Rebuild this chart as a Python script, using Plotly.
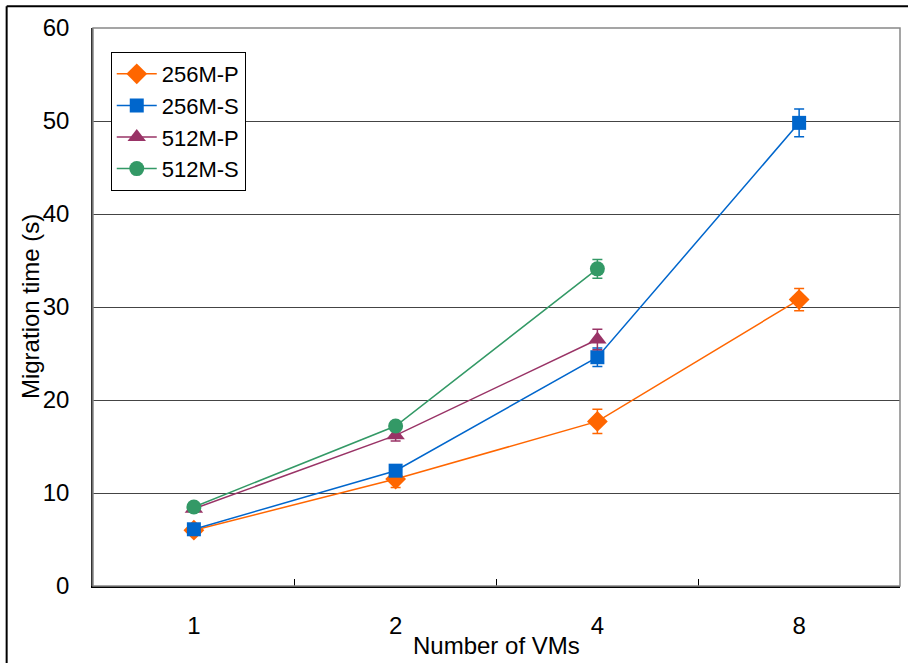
import plotly.graph_objects as go

categories = ["1", "2", "4", "8"]
y_256p = [6.0, 11.5, 17.7, 30.8]
e_256p = [0.3, 0.9, 1.3, 1.2]
y_256s = [6.1, 12.4, 24.6, 49.8]
e_256s = [0.3, 0.5, 1.0, 1.5]
y_512p = [8.3, 16.2, 26.5, None]
e_512p = [0.3, 0.6, 1.1, None]
y_512s = [8.5, 17.2, 34.1, None]
e_512s = [0.3, 0.4, 1.0, None]

series = [
    ("256M-P", y_256p, e_256p, "#FF6600", "diamond", 16),
    ("256M-S", y_256s, e_256s, "#0066CC", "square", 14),
    ("512M-P", y_512p, e_512p, "#993366", "triangle-up", 16),
    ("512M-S", y_512s, e_512s, "#339966", "circle", 15),
]

fig = go.Figure()
for name, ys, es, color, sym, sz in series:
    xs = [c for c, v in zip(categories, ys) if v is not None]
    yv = [v for v in ys if v is not None]
    ev = [e for e in es if e is not None]
    fig.add_trace(go.Scatter(
        x=xs, y=yv, name=name, mode="lines+markers",
        line=dict(color=color, width=1.5),
        marker=dict(symbol=sym, size=sz, color=color),
        error_y=dict(type="data", array=ev, visible=True, color=color,
                     thickness=1.5, width=5),
    ))

font = "Liberation Sans, Arial, Helvetica, sans-serif"
fig.update_layout(
    width=908, height=663,
    margin=dict(l=93, r=8, t=28, b=77),
    paper_bgcolor="white", plot_bgcolor="white",
    font=dict(family=font, color="black", size=24),
    showlegend=True,
    legend=dict(x=0.022, y=0.957, xanchor="left", yanchor="top",
                bordercolor="black", borderwidth=1, bgcolor="white",
                font=dict(size=22, family=font), tracegroupgap=0,
                itemwidth=40),
    xaxis=dict(type="category", categoryorder="array", categoryarray=categories,
               range=[-0.5, 3.5], showgrid=False, showline=True,
               linecolor="black", linewidth=1.5, mirror=False,
               ticks="inside", tickson="boundaries", ticklen=7,
               tickcolor="black", tickwidth=1,
               tickfont=dict(size=24), ticklabelstandoff=17),
    yaxis=dict(range=[0, 60], tickvals=[0, 10, 20, 30, 40, 50, 60],
               showgrid=True, gridcolor="#444", gridwidth=1,
               showline=True, linecolor="#333", linewidth=1.5,
               ticks="", tickfont=dict(size=24), ticklabelstandoff=17,
               zeroline=False),
    annotations=[
        dict(text="Migration time (s)", xref="paper", yref="paper",
             x=-0.078, y=0.5, textangle=-90, showarrow=False,
             xanchor="center", yanchor="middle", font=dict(size=24)),
        dict(text="Number of VMs", xref="paper", yref="paper",
             x=0.5, y=-0.106, showarrow=False, xanchor="center",
             yanchor="middle", font=dict(size=24)),
    ],
    shapes=[
        dict(type="rect", xref="paper", yref="paper", x0=0, x1=1, y0=0, y1=1,
             line=dict(color="#888", width=1.5)),
        dict(type="line", xref="paper", yref="paper", x0=-0.107, x1=1.2,
             y0=1.039, y1=1.039, line=dict(color="black", width=2)),
        dict(type="line", xref="paper", yref="paper", x0=-0.107, x1=-0.107,
             y0=1.039, y1=-0.3, line=dict(color="black", width=2)),
    ],
)

fig.write_html("out.html", config={"displayModeBar": False},
               post_script="document.body.style.margin='0px';document.body.style.overflow='hidden';")
